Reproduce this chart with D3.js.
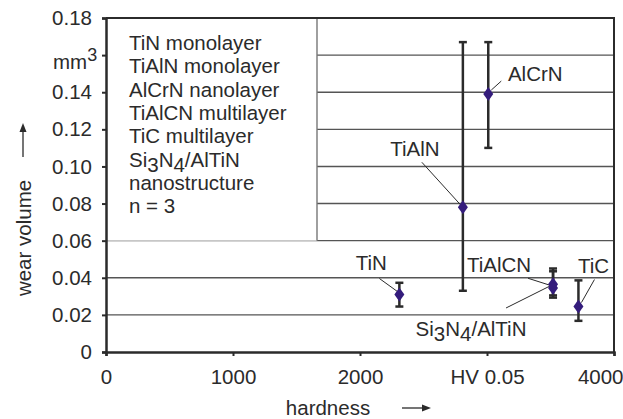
<!DOCTYPE html>
<html>
	<head>
		<script type="text/javascript" src="https://cdn.jsdelivr.net/npm/d3@7/dist/d3.min.js"></script>
		<style>
			body { margin: 0; background: #fff; }
			text { font-family: "Liberation Sans", Arial, sans-serif; fill: #2b2b2b; }
		</style>
	</head>
<body>
	<script type="text/javascript">
		var w = 623;
		var h = 419;
		var padding = {
			left: 106,
			right: 9,
			bottom: 67,
			top: 18
		};

		// data
		var materials = ["TiN", "TiAlN", "AlCrN", "TiAlCN", "TiC", "Si3N4/AlTiN"];
		var hardness = [2310, 2810, 3010, 3520, 3720, 3520];
		var wearVolume = [0.031, 0.078, 0.139, 0.0365, 0.0245, 0.0345];
		var errLow = [0.0245, 0.033, 0.110, 0.0305, 0.0168, 0.0293];
		var errHigh = [0.0373, 0.167, 0.167, 0.045, 0.0386, 0.0435];

		var yTicks = [0, 0.02, 0.04, 0.06, 0.08, 0.10, 0.12, 0.14, 0.16, 0.18];
		var xTicks = [0, 1000, 2000, 3000, 4000];
		var legendLines = ["TiN monolayer", "TiAlN monolayer", "AlCrN nanolayer", "TiAlCN multilayer",
			"TiC multilayer", "Si3N4/AlTiN", "nanostructure", "n = 3"];

		// label placement: text offset and leader line (pixels, relative to the point)
		var labelPos = {
			"TiN":         { tx: -28, ty: -24, l1: [-20, -16], l2: [-2, -3] },
			"TiAlN":       { tx: -48, ty: -51, l1: [-41, -45], l2: [-1, -1] },
			"AlCrN":       { tx: 47,  ty: -13, l1: [13, -13],  l2: [3, -4] },
			"TiAlCN":      { tx: -54, ty: -12, l1: [-25, -6],  l2: [-3, 1] },
			"TiC":         { tx: 15,  ty: -34, l1: [16, -27],  l2: [3, -4] },
			"Si3N4/AlTiN": { tx: -82, ty: 48,  l1: [-47, 20],  l2: [-3, -2] }
		};

		var points = materials.map(function (m, i) {
			return { name: m, x: hardness[i], y: wearVolume[i], lo: errLow[i], hi: errHigh[i] };
		});

		var svg = d3.select("body")
			.append("svg")
			.attr("width", w)
			.attr("height", h);

		var xScale = d3.scaleLinear()
			.domain([0, 4000])
			.range([padding.left, w - padding.right]);

		var yScale = d3.scaleLinear()
			.domain([0, 0.18])
			.range([h - padding.bottom, padding.top]);

		// writes "Si3N4" style names, a digit after a letter goes down
		function chemText(sel, str, shift) {
			var parts = str.match(/[A-Za-z]\d|[^]/g);
			var runs = [];
			str.split("").forEach(function (c, i) {
				var sub = /\d/.test(c) && i > 0 && /[A-Za-z]/.test(str[i - 1]);
				var last = runs[runs.length - 1];
				if (last && last.sub === sub) last.text += c;
				else runs.push({ text: c, sub: sub });
			});
			var level = 0;
			runs.forEach(function (r) {
				var target = r.sub ? shift : 0;
				sel.append("tspan")
					.attr("dy", target - level)
					.text(r.text);
				level = target;
			});
		}

		// grid
		svg.append("g")
			.selectAll("line")
			.data(yTicks.filter(function (d) { return d > 0 && d < 0.18; }))
			.enter()
			.append("line")
			.attr("x1", xScale(0))
			.attr("x2", xScale(4000))
			.attr("y1", function (d) { return yScale(d); })
			.attr("y2", function (d) { return yScale(d); })
			.attr("stroke", "#555")
			.attr("stroke-width", 1.4);

		// legend box covers the grid
		svg.append("rect")
			.attr("x", xScale(0))
			.attr("y", yScale(0.18))
			.attr("width", 211)
			.attr("height", yScale(0.06) - yScale(0.18))
			.attr("fill", "#fff");
		svg.append("line")
			.attr("x1", xScale(0) + 211).attr("x2", xScale(0) + 211)
			.attr("y1", yScale(0.18)).attr("y2", yScale(0.06))
			.attr("stroke", "#777").attr("stroke-width", 1.4);

		var legend = svg.append("g")
			.attr("transform", "translate(129,50)")
			.style("font-size", "20.5px");
		legendLines.forEach(function (line, i) {
			var t = legend.append("text").attr("y", i * 23.3);
			chemText(t, line, 5);
		});

		// frame top and right
		svg.append("path")
			.attr("d", "M" + xScale(0) + "," + yScale(0.18) + "H" + xScale(4000) + "V" + yScale(0))
			.attr("fill", "none")
			.attr("stroke", "#2b2b2b")
			.attr("stroke-width", 2);

		// axes
		var xAxis = d3.axisBottom(xScale)
			.tickValues(xTicks)
			.tickSize(4)
			.tickPadding(13)
			.tickFormat(function (d) { return d === 3000 ? "HV 0.05" : d; });

		svg.append("g")
			.attr("transform", "translate(0," + yScale(0) + ")")
			.call(function (g) {
				g.call(xAxis);
				g.select(".domain").attr("stroke", "#2b2b2b").attr("stroke-width", 2.5);
				g.selectAll(".tick line").attr("stroke", "#2b2b2b").attr("stroke-width", 2);
				g.selectAll(".tick text")
					.style("font-size", "20.5px")
					.style("font-family", "Liberation Sans, Arial, sans-serif")
					.attr("fill", "#2b2b2b");
				g.selectAll(".tick text").filter(function (d) { return d === 4000; })
					.attr("text-anchor", "end").attr("x", 9);
			});

		var yAxis = d3.axisLeft(yScale)
			.tickValues(yTicks)
			.tickSize(4)
			.tickPadding(10)
			.tickFormat(function (d) {
				if (d === 0) return "0";
				if (Math.abs(d - 0.16) < 1e-9) return "";
				return d3.format(".2f")(d);
			});

		svg.append("g")
			.attr("transform", "translate(" + xScale(0) + ",0)")
			.call(function (g) {
				g.call(yAxis);
				g.select(".domain").attr("stroke", "#2b2b2b").attr("stroke-width", 2.5);
				g.selectAll(".tick line").attr("stroke", "#2b2b2b").attr("stroke-width", 2);
				g.selectAll(".tick text")
					.style("font-size", "20.5px")
					.style("font-family", "Liberation Sans, Arial, sans-serif")
					.attr("fill", "#2b2b2b");
			});

		// unit in place of the 0.16 label
		var unit = svg.append("text")
			.attr("x", 53)
			.attr("y", yScale(0.16) + 14)
			.style("font-size", "20.5px");
		unit.append("tspan").text("mm");
		unit.append("tspan").attr("dy", -8).style("font-size", "18px").text("3");

		// axis titles with arrows
		svg.append("text")
			.attr("transform", "translate(31,238) rotate(-90)")
			.attr("text-anchor", "middle")
			.style("font-size", "20.5px")
			.text("wear volume");
		svg.append("line")
			.attr("x1", 23).attr("x2", 23).attr("y1", 157).attr("y2", 131)
			.attr("stroke", "#2b2b2b").attr("stroke-width", 1.3);
		svg.append("path")
			.attr("d", "M23,123L19.5,132L26.5,132Z")
			.attr("fill", "#2b2b2b");

		svg.append("text")
			.attr("x", 328)
			.attr("y", 415)
			.attr("text-anchor", "middle")
			.style("font-size", "20.5px")
			.text("hardness");
		svg.append("line")
			.attr("x1", 402).attr("x2", 423).attr("y1", 408).attr("y2", 408)
			.attr("stroke", "#2b2b2b").attr("stroke-width", 1.3);
		svg.append("path")
			.attr("d", "M431,408L422,404.5L422,411.5Z")
			.attr("fill", "#2b2b2b");

		// error bars
		var bars = svg.append("g")
			.selectAll("g")
			.data(points)
			.enter()
			.append("g")
			.attr("stroke", "#2b2b2b")
			.attr("stroke-width", 2.5);
		bars.append("line")
			.attr("x1", function (d) { return xScale(d.x); })
			.attr("x2", function (d) { return xScale(d.x); })
			.attr("y1", function (d) { return yScale(d.lo); })
			.attr("y2", function (d) { return yScale(d.hi); });
		bars.append("line")
			.attr("x1", function (d) { return xScale(d.x) - 4; })
			.attr("x2", function (d) { return xScale(d.x) + 4; })
			.attr("y1", function (d) { return yScale(d.lo); })
			.attr("y2", function (d) { return yScale(d.lo); });
		bars.append("line")
			.attr("x1", function (d) { return xScale(d.x) - 4; })
			.attr("x2", function (d) { return xScale(d.x) + 4; })
			.attr("y1", function (d) { return yScale(d.hi); })
			.attr("y2", function (d) { return yScale(d.hi); });

		// leader lines
		svg.append("g")
			.selectAll("line")
			.data(points)
			.enter()
			.append("line")
			.attr("x1", function (d) { return xScale(d.x) + labelPos[d.name].l1[0]; })
			.attr("y1", function (d) { return yScale(d.y) + labelPos[d.name].l1[1]; })
			.attr("x2", function (d) { return xScale(d.x) + labelPos[d.name].l2[0]; })
			.attr("y2", function (d) { return yScale(d.y) + labelPos[d.name].l2[1]; })
			.attr("stroke", "#2b2b2b")
			.attr("stroke-width", 1);

		// diamond markers
		svg.append("g")
			.selectAll("path")
			.data(points)
			.enter()
			.append("path")
			.attr("d", "M0,-7L5,0L0,7L-5,0Z")
			.attr("transform", function (d) {
				return "translate(" + xScale(d.x) + "," + yScale(d.y) + ")";
			})
			.attr("fill", "#341c7c");

		// point labels
		svg.append("g")
			.selectAll("text")
			.data(points)
			.enter()
			.append("text")
			.attr("x", function (d) { return xScale(d.x) + labelPos[d.name].tx; })
			.attr("y", function (d) { return yScale(d.y) + labelPos[d.name].ty; })
			.attr("text-anchor", "middle")
			.style("font-size", "20.5px")
			.each(function (d) { chemText(d3.select(this), d.name, 5); });
	</script>
</body>
</html>
